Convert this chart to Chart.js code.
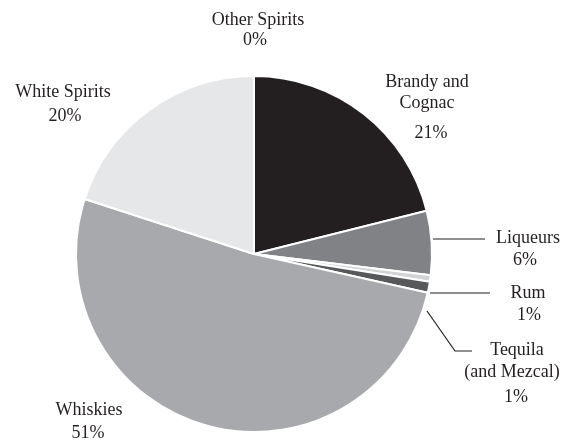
<!DOCTYPE html>
<html>
<head>
<meta charset="utf-8">
<script src="https://cdn.jsdelivr.net/npm/chart.js@4"></script>
<style>
html,body{margin:0;padding:0;background:#fff;}
#wrap{width:561px;height:441px;position:relative;}
</style>
</head>
<body>
<div id="wrap"><canvas id="c" width="561" height="441"></canvas></div>
<script>
const categories = ["Brandy and Cognac", "Liqueurs", "Rum", "Tequila (and Mezcal)", "Whiskies", "White Spirits", "Other Spirits"];
const shares = [21.1, 5.8, 0.6, 1.0, 51.5, 20.0, 0.0];
const shareLabels = ["21%", "6%", "1%", "1%", "51%", "20%", "0%"];
const sliceColors = ["#231f20", "#808285", "#d1d3d4", "#58595b", "#a7a9ac", "#e6e7e8", "#ffffff"];

// label layout: lines of text with centre x and baseline y
const labelLayout = [
  [[427, 87, "Brandy and"], [427, 108, "Cognac"], [431, 138, shareLabels[0]]],
  [[528, 243, "Liqueurs"], [525, 265, shareLabels[1]]],
  [[528, 298, "Rum"], [529, 320, shareLabels[2]]],
  [[517, 355, "Tequila"], [512, 377, "(and Mezcal)"], [516, 402, shareLabels[3]]],
  [[89, 415, "Whiskies"], [88, 438, shareLabels[4]]],
  [[63, 97, "White Spirits"], [65, 121, shareLabels[5]]],
  [[258, 25, "Other Spirits"], [255, 45, shareLabels[6]]]
];
const leaderLines = [
  [[433, 239], [485, 239]],
  [[430, 293], [490, 293]],
  [[427, 311], [455, 351], [472, 351]]
];

const labelPlugin = {
  id: 'labels',
  afterDraw(chart) {
    const ctx = chart.ctx;
    ctx.save();
    ctx.fillStyle = '#231f20';
    ctx.strokeStyle = '#231f20';
    ctx.lineWidth = 1.2;
    ctx.font = '18px "Liberation Serif", "Times New Roman", serif';
    ctx.textAlign = 'center';
    ctx.textBaseline = 'alphabetic';
    labelLayout.forEach(lines => lines.forEach(([x, y, t]) => ctx.fillText(t, x, y)));
    leaderLines.forEach(pts => {
      ctx.beginPath();
      pts.forEach(([x, y], i) => i ? ctx.lineTo(x, y) : ctx.moveTo(x, y));
      ctx.stroke();
    });
    ctx.restore();
  }
};

new Chart(document.getElementById('c'), {
  type: 'pie',
  data: {
    labels: categories,
    datasets: [{
      data: shares,
      backgroundColor: sliceColors,
      borderColor: '#ffffff',
      borderWidth: 2
    }]
  },
  options: {
    responsive: false,
    animation: false,
    layout: { padding: { left: 75, right: 128, top: 75, bottom: 8 } },
    plugins: { legend: { display: false }, tooltip: { enabled: false } }
  },
  plugins: [labelPlugin]
});
</script>
</body>
</html>
